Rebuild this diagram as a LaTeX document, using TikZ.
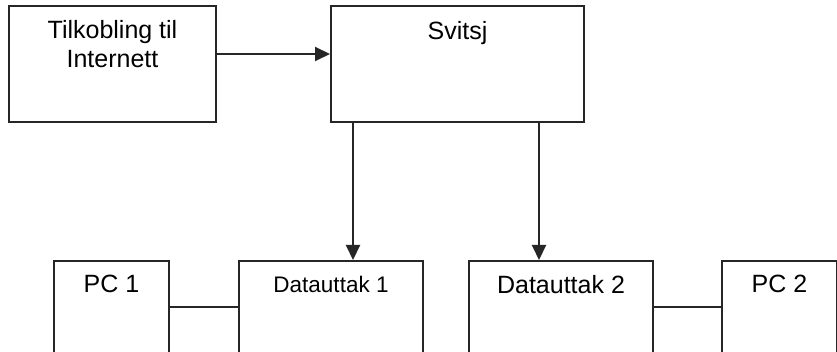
\documentclass[tikz,border=0pt]{standalone}
\usepackage{fontspec}
\setmainfont{Liberation Sans}
\usetikzlibrary{arrows.meta}
\begin{document}
\begin{tikzpicture}[x=1pt,y=-1pt,
  box/.style={draw=black!85,line width=2pt,inner sep=0pt,fill=white},
  lbl/.style={anchor=base,inner sep=0pt,font=\fontsize{25}{29}\selectfont,align=center},
  conn/.style={draw=black!85,line width=2pt},
  arr/.style={conn,-{Triangle[length=15pt,width=14pt]}}]
\useasboundingbox (0,0) rectangle (837,352);
\clip (0,0) rectangle (837,352);
\fill[white] (0,0) rectangle (837,352);
% boxes
\node[box,minimum width=207pt,minimum height=116pt] (tilk) at (112.5,64) {};
\node[box,minimum width=253pt,minimum height=116pt] (svitsj) at (457.5,64) {};
\node[box,minimum width=115pt,minimum height=120pt] (pc1) at (111.5,321) {};
\node[box,minimum width=184pt,minimum height=120pt] (d1) at (331,321) {};
\node[box,minimum width=184pt,minimum height=120pt] (d2) at (561,321) {};
\node[box,minimum width=115pt,minimum height=120pt] (pc2) at (779.5,321) {};
% texts
\node[lbl] (tilkT) at (112.5,39) {Tilkobling til};
\node[lbl] (tilkT2) at (112.5,68) {Internett};
\node[lbl] (svitsjT) at (457.5,40) {Svitsj};
\node[lbl] (pc1T) at (111.5,293) {PC 1};
\node[lbl,font=\fontsize{22.5}{27}\selectfont] (d1T) at (331,293) {Datauttak 1};
\node[lbl] (d2T) at (561,294) {Datauttak 2};
\node[lbl] (pc2T) at (779.5,293) {PC 2};
% connectors
\coordinate (a0) at ([yshift=10pt]tilk.east);
\draw[arr] (a0) -- (a0 -| svitsj.west);
\coordinate (s1) at ([xshift=23pt]svitsj.south west);
\coordinate (s2) at ([xshift=-46pt]svitsj.south east);
\draw[arr] (s1) -- (s1 |- d1.north);
\draw[arr] (s2) -- (s2 |- d2.north);
\coordinate (h1) at ([yshift=14pt]pc1.east);
\draw[conn] (h1) -- (h1 -| d1.west);
\coordinate (h2) at ([yshift=14pt]d2.east);
\draw[conn] (h2) -- (h2 -| pc2.west);
\end{tikzpicture}
\end{document}
